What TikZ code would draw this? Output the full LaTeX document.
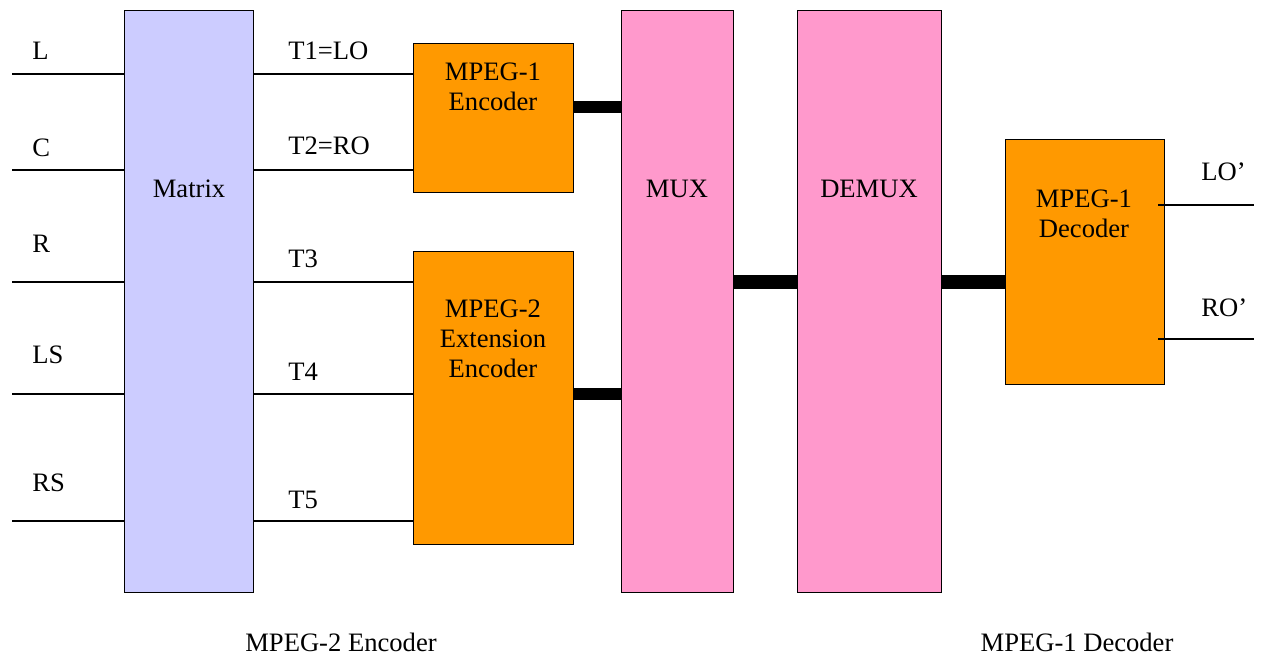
\documentclass[tikz,border=0pt]{standalone}
\usepackage{fontspec}
\setmainfont{Liberation Serif}
\usetikzlibrary{positioning,calc}
\definecolor{matblue}{HTML}{CCCCFF}
\definecolor{codorange}{HTML}{FF9900}
\definecolor{muxpink}{HTML}{FF99CC}

\begin{document}
\begin{tikzpicture}[x=0.5pt, y=-0.5pt, font=\fontsize{13.3}{15}\selectfont,
  block/.style={draw, line width=0.7pt, inner sep=0pt, anchor=north west},
  wire/.style={line width=0.65pt},
  bus/.style={line width=6pt},
  lbl/.style={inner sep=0pt, anchor=base west},
  ttl/.style={inner sep=0pt, align=center}]
\useasboundingbox (0,0) rectangle (1272,657);
% blocks
\node[block, fill=matblue, minimum width=64.5pt, minimum height=291pt] (mat) at (124,10) {};
\node[block, fill=codorange, minimum width=80pt, minimum height=74.5pt] (enc1) at (413,43) {};
\node[block, fill=codorange, minimum width=80pt, minimum height=146.5pt] (enc2) at (413,251) {};
\node[block, fill=muxpink, minimum width=56pt, minimum height=291pt] (mux) at (621,10) {};
\node[block, fill=muxpink, minimum width=72pt, minimum height=291pt] (demux) at (797,10) {};
\node[block, fill=codorange, minimum width=79.5pt, minimum height=122.5pt] (dec) at (1005,139) {};
\node[ttl, anchor=base] (matT) at (189,198) {Matrix};
\node[ttl] (enc1T) at (493,87) {MPEG-1\\Encoder};
\node[ttl] (enc2T) at (493,339) {MPEG-2\\Extension\\Encoder};
\node[ttl, anchor=base] (muxT) at (677,198) {MUX};
\node[ttl, anchor=base] (demuxT) at (869,198) {DEMUX};
\node[ttl] (decT) at (1084,214) {MPEG-1\\Decoder};
% inputs and matrix outputs
\foreach \y/\i/\b/\t/\o/\ob/\enc in {74/L/60/L/T1=LO/60/enc1, 170/C/157/C/T2=RO/155/enc1,
    282/R/253/R/T3/268/enc2, 394/LS/363/LS/T4/380/enc2, 521/RS/491/RS/T5/508/enc2} {
  \coordinate (in\i) at (12,\y);
  \draw[wire] (in\i) -- (in\i -| mat.west);
  \draw[wire] (in\i -| mat.east) -- (in\i -| \enc.west);
  \node[lbl] (lab\i) at (32,\b) {\t};
  \node[lbl] (tl\i) at (288,\ob) {\o};
}
% buses
\coordinate (e1out) at ([yshift=5.5pt]enc1.east);
\draw[bus] (e1out) -- (e1out -| mux.west);
\draw[bus] (enc2.east |- inLS) -- (mux.west |- inLS);
\draw[bus, line width=7pt] (mux.east |- inR) -- (demux.west |- inR);
\draw[bus, line width=7pt] (demux.east |- inR) -- (dec.west |- inR);
% decoder outputs
\coordinate (outLO) at (1254,205);
\coordinate (outRO) at (1254,339);
\draw[wire] ([xshift=-3.5pt]outLO -| dec.east) -- (outLO);
\draw[wire] ([xshift=-3.5pt]outRO -| dec.east) -- (outRO);
\node[lbl] (labLO) at (1201,181) {LO'};
\node[lbl] (labRO) at (1201,316) {RO'};
% captions
\node[ttl, anchor=base] (encCap) at (341,651) {MPEG-2 Encoder};
\node[ttl, anchor=base] (decCap) at (1077,651) {MPEG-1 Decoder};
\end{tikzpicture}
\end{document}
